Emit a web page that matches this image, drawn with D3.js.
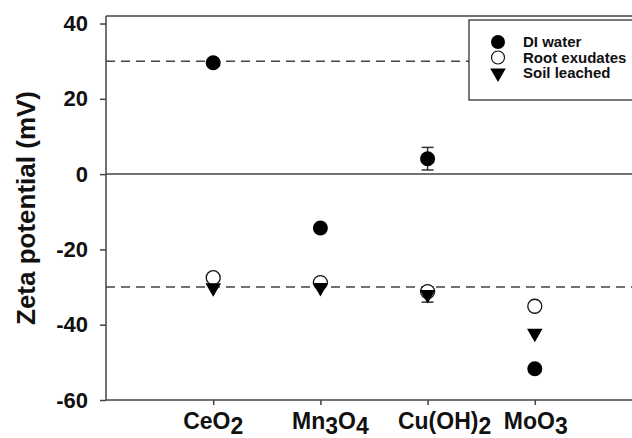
<!DOCTYPE html>
<html><head><meta charset="utf-8">
<script src="https://cdn.jsdelivr.net/npm/d3@7/dist/d3.min.js"></script>
<style>body{margin:0;background:#fff}svg{display:block;font-family:"Liberation Sans",Arial,sans-serif}</style>
</head><body><svg id="c" width="632" height="438"></svg>
<script>
const categories = [["Ce","O","2"],["Mn","3","O","4"],["Cu(OH)","2"],["Mo","O","3"]];
const catNames = ["CeO2","Mn3O4","Cu(OH)2","MoO3"];
const diWater = [29.6, -14.3, 4.1, -51.7];
const diErr = [0, 0, 3.0, 0];
const rootExudates = [-27.5, -28.8, -31.2, -35.1];
const soilLeached = [-30.2, -30.1, -32.0, -42.3];
const soilErr = [0, 0, 2.0, 0];
const yTicks = [-60, -40, -20, 0, 20, 40];
const refLines = [30, -30];
const legendLabels = ["DI water", "Root exudates", "Soil leached"];

const svg = d3.select("#c");
const x = d3.scaleLinear().domain([0, 5]).range([106, 642]);
const y = d3.scaleLinear().domain([-60, 42]).range([400, 16]);
const ink = "#111";
const FF = "Liberation Sans, Arial, sans-serif";

// frame
svg.append("line").attr("x1",106).attr("x2",640).attr("y1",y(42)).attr("y2",y(42)).attr("stroke","#444").attr("stroke-width",1.5);
// y axis
const ya = svg.append("g").attr("transform","translate(106,0)")
  .call(d3.axisLeft(y).tickValues(yTicks).tickSize(6).tickPadding(12).tickFormat(d => String(d)));
ya.select(".domain").attr("d", `M0,${y(-60)}V${y(42)}`).attr("stroke","#444").attr("stroke-width",1.5);
ya.selectAll(".tick line").attr("stroke","#444").attr("stroke-width",1.5);
ya.selectAll(".tick text").attr("font-size",22).attr("font-weight","bold").attr("fill",ink).attr("font-family",FF);

// x axis
const xa = svg.append("g").attr("transform",`translate(0,${y(-60)})`)
  .call(d3.axisBottom(x).tickValues([1,2,3,4]).tickSize(5).tickFormat(""));
xa.select(".domain").attr("d", "M106,0H640").attr("stroke","#444").attr("stroke-width",1.5);
xa.selectAll(".tick line").attr("stroke","#444").attr("stroke-width",1.5);

// x labels with subscripts (label placement nudges as in the original layout)
const labelNudge = [0, 10, 17, 1];
categories.forEach((parts, i) => {
  const t = svg.append("text").attr("x", x(i+1) + labelNudge[i]).attr("y", 429).attr("text-anchor","middle")
    .attr("font-size",23).attr("font-weight","bold").attr("fill",ink).attr("font-family",FF);
  let prevSub = false;
  parts.forEach(p => {
    const isSub = /^[0-9]$/.test(p);
    let dy = 0;
    if (isSub && !prevSub) dy = 5;
    if (!isSub && prevSub) dy = -5;
    t.append("tspan").text(p).attr("dy", dy);
    prevSub = isSub;
  });
});

// y title
svg.append("text").attr("transform",`translate(35,${y(-9)}) rotate(-90)`).attr("text-anchor","middle")
  .attr("font-size",26).attr("font-weight","bold").attr("fill",ink).attr("font-family",FF).text("Zeta potential (mV)");

// zero line
svg.append("line").attr("x1",106).attr("x2",640).attr("y1",y(0)).attr("y2",y(0)).attr("stroke","#444").attr("stroke-width",1.5);
// dashed reference lines
svg.selectAll(".ref").data(refLines).enter().append("line")
  .attr("x1",106).attr("x2",640).attr("y1",d=>y(d)).attr("y2",d=>y(d))
  .attr("stroke","#444").attr("stroke-width",1.5).attr("stroke-dasharray","9,6");

// error bars
function errBars(vals, errs){
  vals.forEach((v,i)=>{
    if(!errs[i]) return;
    const cx = x(i+1), g = svg.append("g").attr("stroke","#333").attr("stroke-width",1.5);
    g.append("line").attr("x1",cx).attr("x2",cx).attr("y1",y(v+errs[i])).attr("y2",y(v-errs[i]));
    [v+errs[i], v-errs[i]].forEach(e=>g.append("line").attr("x1",cx-6).attr("x2",cx+6).attr("y1",y(e)).attr("y2",y(e)));
  });
}
errBars(diWater, diErr);
errBars(soilLeached, soilErr);

const tri = d3.symbol().type(d3.symbolTriangle).size(105);
// root exudates (open circles)
svg.selectAll(".root").data(rootExudates).enter().append("circle")
  .attr("cx",(d,i)=>x(i+1)).attr("cy",d=>y(d)).attr("r",7).attr("fill","#fff").attr("stroke","#111").attr("stroke-width",1.3);
// soil leached (triangles down)
svg.selectAll(".soil").data(soilLeached).enter().append("path")
  .attr("d",tri).attr("transform",(d,i)=>`translate(${x(i+1)},${y(d)}) rotate(180)`).attr("fill","#000");
// DI water (filled circles)
svg.selectAll(".di").data(diWater).enter().append("circle")
  .attr("cx",(d,i)=>x(i+1)).attr("cy",d=>y(d)).attr("r",7.5).attr("fill","#000");

// legend
const lg = svg.append("g");
lg.append("rect").attr("x",469).attr("y",20).attr("width",180).attr("height",80).attr("fill","#fff").attr("stroke","#333").attr("stroke-width",1.3);
const ly = [42, 57.5, 73];
legendLabels.forEach((lab,i)=>{
  if(i===0) lg.append("circle").attr("cx",498).attr("cy",ly[i]).attr("r",7).attr("fill","#000");
  if(i===1) lg.append("circle").attr("cx",498).attr("cy",ly[i]).attr("r",6.5).attr("fill","#fff").attr("stroke","#111").attr("stroke-width",1.2);
  if(i===2) lg.append("path").attr("d",tri).attr("transform",`translate(498,${ly[i]}) rotate(180)`).attr("fill","#000");
  lg.append("text").attr("x",523).attr("y",ly[i]).attr("dy","0.35em").attr("font-size",15).attr("font-weight","bold").attr("fill",ink).attr("font-family",FF).text(lab);
});
</script></body></html>
